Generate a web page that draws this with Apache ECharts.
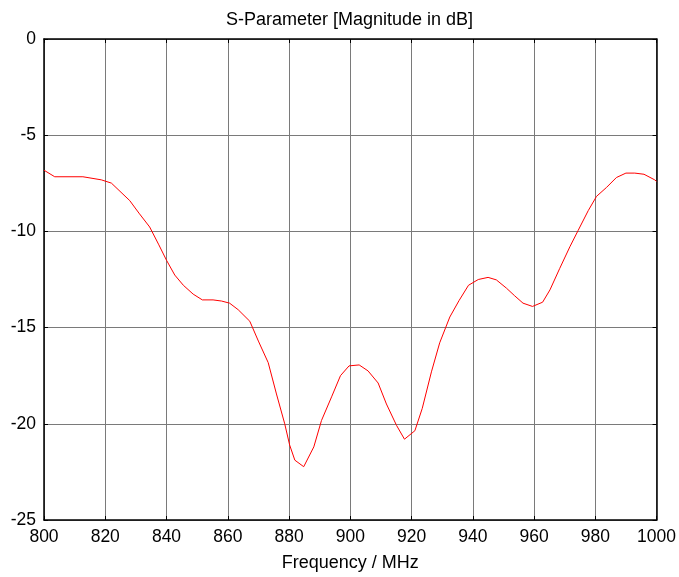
<!DOCTYPE html>
<html>
<head>
<meta charset="utf-8">
<script src="https://cdn.jsdelivr.net/npm/echarts@6/dist/echarts.min.js"></script>
<style>html,body{margin:0;padding:0;background:#fff}#c{width:679px;height:577px}</style>
</head>
<body>
<div id="c"></div>
<script>
var freqMHz = [800,803.5,812.7,818.7,822,828,831,834.5,837.5,840,842.7,845.5,848.7,851.7,855.2,858,860.6,863.4,867.2,870,873.2,875.9,878.6,880.2,881.9,884.8,888.1,890.6,893.9,896.8,899.6,902.9,905.8,909.1,911.8,915.1,917.7,921.1,923.5,926.5,929.2,932.5,935.5,938.6,941.8,945,947.7,951,953.7,956.4,959.5,962.8,965.2,968.4,971.7,974.4,977.7,980.4,983.7,986.9,990,992.9,995.9,999.4,1000];
var magDB = [-6.82,-7.16,-7.16,-7.32,-7.49,-8.4,-9.05,-9.77,-10.7,-11.5,-12.27,-12.8,-13.26,-13.56,-13.56,-13.62,-13.73,-14.07,-14.67,-15.7,-16.82,-18.45,-20,-21.1,-21.89,-22.23,-21.2,-19.83,-18.6,-17.5,-16.99,-16.94,-17.25,-17.88,-18.97,-20.08,-20.8,-20.36,-19.2,-17.3,-15.79,-14.45,-13.6,-12.8,-12.5,-12.39,-12.52,-12.95,-13.35,-13.73,-13.9,-13.68,-13.04,-11.92,-10.8,-9.95,-8.92,-8.18,-7.71,-7.2,-6.97,-6.97,-7.03,-7.32,-7.4];
var xTicks = [800,820,840,860,880,900,920,940,960,980,1000];
var yTicks = [0,-5,-10,-15,-20,-25];

var FONT = 'Liberation Sans';
var chart = echarts.init(document.getElementById('c'), null, {renderer:'canvas'});
var data = freqMHz.map(function(f,i){return [f, magDB[i]];});
var axisLine = {show:true, onZero:false, lineStyle:{color:'#000', width:1.5}};
var gridLine = {show:true, lineStyle:{color:'#7a7a7a', width:1, type:'solid'}};
chart.setOption({
  animation:false,
  backgroundColor:'#fff',
  title:{text:'S-Parameter [Magnitude in dB]', left:221, top:6,
    textStyle:{fontFamily:FONT, fontSize:18, fontWeight:'normal', color:'#000'}},
  grid:{left:44, top:39, width:613, height:485},
  xAxis:[{
    type:'value', min:800, max:1000, interval:20, position:'bottom',
    axisLine:axisLine, axisTick:{show:true, inside:true, length:4, lineStyle:{color:'#000'}},
    splitLine:gridLine,
    axisLabel:{fontFamily:FONT, fontSize:17.5, color:'#000', margin:8,
      formatter:function(v){return xTicks.indexOf(v)>=0 ? String(v) : '';}},
    name:'Frequency / MHz', nameLocation:'middle', nameGap:34,
    nameTextStyle:{fontFamily:FONT, fontSize:18, color:'#000'}
  },{
    type:'value', min:800, max:1000, interval:20, position:'top',
    axisLine:axisLine, axisTick:{show:true, inside:true, length:4, lineStyle:{color:'#000'}},
    splitLine:{show:false}, axisLabel:{show:false}
  }],
  yAxis:[{
    type:'value', min:-25, max:0, interval:5, position:'left',
    axisLine:axisLine, axisTick:{show:true, inside:true, length:4, lineStyle:{color:'#000'}},
    splitLine:gridLine,
    axisLabel:{fontFamily:FONT, fontSize:17.5, color:'#000', margin:8,
      formatter:function(v){return yTicks.indexOf(v)>=0 ? String(v) : '';}}
  },{
    type:'value', min:-25, max:0, interval:5, position:'right',
    axisLine:axisLine, axisTick:{show:true, inside:true, length:4, lineStyle:{color:'#000'}},
    splitLine:{show:false}, axisLabel:{show:false}
  }],
  series:[{
    type:'line', xAxisIndex:0, yAxisIndex:0, data:data, showSymbol:false, smooth:false,
    lineStyle:{color:'#ff0000', width:1}, clip:true
  }]
});
</script>
</body>
</html>
